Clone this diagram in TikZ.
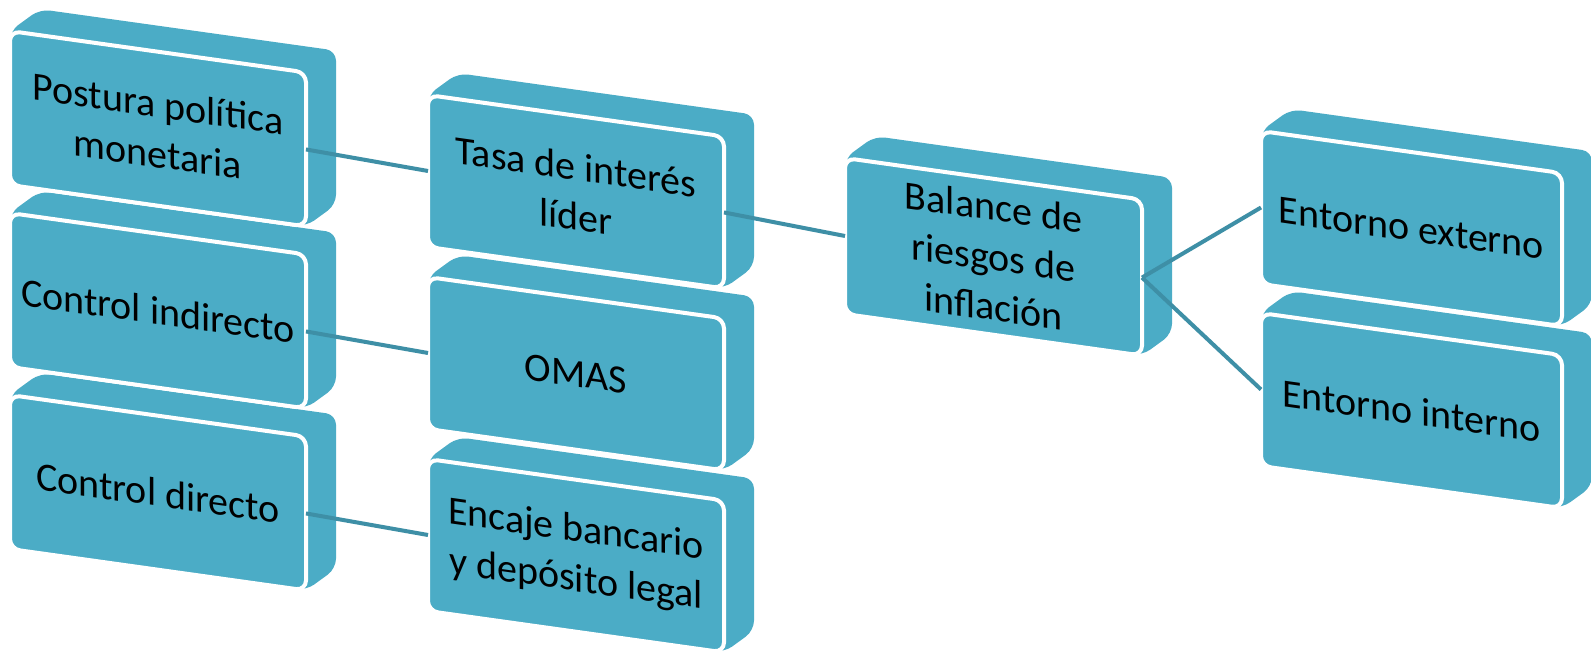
\documentclass[tikz,border=0pt]{standalone}
\usepackage{fontspec}
\setmainfont{Carlito}
\definecolor{boxteal}{HTML}{4BACC6}
\definecolor{conncol}{HTML}{3E8FA6}
\tikzset{
  boxhull/.style={fill=boxteal, rounded corners=5pt},
  frontbox/.style={draw=white, line width=2pt, fill=boxteal, rounded corners=5pt,
    transform shape, anchor=north west, outer sep=0pt, inner sep=0pt,
    align=center, font=\fontsize{20}{25}\selectfont, text=black},
  conn/.style={draw=conncol, line width=2pt},
}
\newcommand\tealbox[5]{%
  \begin{scope}[shift={#2}, yslant=-0.14]
    \fill[boxhull] (0,0) -- (30,-26) -- (#3+30,-26) -- (#3+30,#4-26) -- (#3,#4) -- (0,#4) -- cycle;
    \node[frontbox, minimum width=#3*0.5pt, minimum height=#4*0.5pt] (#1) at (0,0) {#5};
  \end{scope}}
\begin{document}
\begin{tikzpicture}[x=0.5pt, y=-0.5pt]
  \useasboundingbox (0,0) rectangle (1591,652);
  \fill[white] (0,0) rectangle (1591,652);
  % column 1 (drawn bottom to top)
  \tealbox{cdir}{(10,395)}{296}{154}{Control directo}
  \tealbox{cind}{(10,213)}{296}{154}{Control indirecto}
  \tealbox{post}{(10,31)}{296}{154}{Postura política\\monetaria}
  % column 2
  \tealbox{encaje}{(428,459)}{296}{152}{Encaje bancario\\y depósito legal}
  \tealbox{omas}{(428,277)}{296}{152}{OMAS}
  \tealbox{tasa}{(428,95)}{296}{152}{Tasa de interés\\líder}
  % column 3
  \tealbox{bal}{(845,158)}{297}{156}{Balance de\\riesgos de\\inflación}
  % column 4
  \tealbox{entint}{(1261,313)}{301}{153}{Entorno interno}
  \tealbox{entext}{(1261,131)}{301}{153}{Entorno externo}
  % connectors
  \draw[conn] (post.east) -- (tasa.west);
  \draw[conn] (cind.east) -- (omas.west);
  \draw[conn] (cdir.east) -- (encaje.west);
  \draw[conn] (tasa.east) -- (bal.west);
  \draw[conn] (bal.east) -- (entext.west);
  \draw[conn] (bal.east) -- (entint.west);
\end{tikzpicture}
\end{document}
